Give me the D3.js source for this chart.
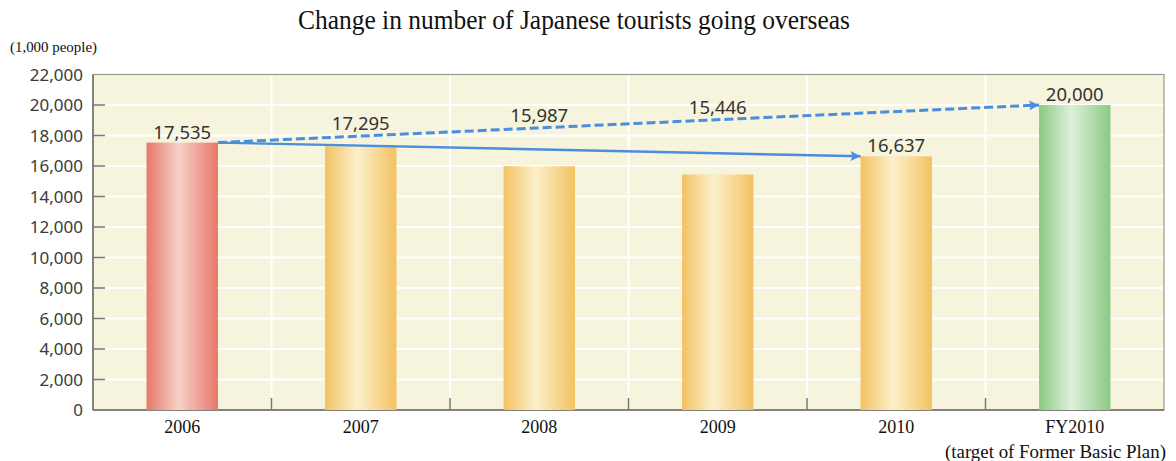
<!DOCTYPE html>
<html><head><meta charset="utf-8">
<script src="https://cdn.jsdelivr.net/npm/d3@7"></script>
<style>body{margin:0;background:#fff}svg{display:block}</style>
</head><body>
<svg id="c" width="1176" height="461"></svg>
<script>
const categories = ["2006","2007","2008","2009","2010","FY2010"];
const values = [17535, 17295, 15987, 15446, 16637, 20000];
const barColors = ["red","yellow","yellow","yellow","yellow","green"];
const yTicks = [0,2000,4000,6000,8000,10000,12000,14000,16000,18000,20000,22000];
const subLabel = "(target of Former Basic Plan)";
const title = "Change in number of Japanese tourists going overseas";
const unit = "(1,000 people)";
const arrows = [{from:0,to:4,dashed:false},{from:0,to:5,dashed:true}];

const svg = d3.select("#c");
const L=93, R=1164, T=74.5, B=410;
const x = d3.scaleBand().domain(categories).range([L,R]).paddingInner(0.6).paddingOuter(0.3);
const y = d3.scaleLinear().domain([0,22000]).range([B,T]);

const defs = svg.append("defs");
const grads = {red:["#e8766a","#f6d2c6"], yellow:["#f3c262","#fcf0cb"], green:["#8bca84","#ddf0d9"]};
Object.entries(grads).forEach(([k,[e,c]])=>{
  const g = defs.append("linearGradient").attr("id","g_"+k).attr("x1","0").attr("x2","1").attr("y1","0").attr("y2","0");
  g.append("stop").attr("offset","0").attr("stop-color",e);
  g.append("stop").attr("offset","0.45").attr("stop-color",c);
  g.append("stop").attr("offset","1").attr("stop-color",e);
});
defs.append("marker").attr("id","ah").attr("viewBox","0 0 10 10").attr("refX",10).attr("refY",5)
  .attr("markerWidth",18).attr("markerHeight",10).attr("markerUnits","userSpaceOnUse").attr("orient","auto")
  .append("path").attr("d","M0,0L10,5L0,10L2,5Z").attr("fill","#4a8ede");

svg.append("rect").attr("x",L).attr("y",T).attr("width",R-L).attr("height",B-T).attr("fill","#f6f4dd");
svg.append("g").selectAll("line").data(yTicks.slice(1,-1)).join("line")
  .attr("x1",L).attr("x2",R).attr("y1",d=>y(d)).attr("y2",d=>y(d)).attr("stroke","#fff").attr("stroke-width",2);
const step = x.step();
const bnd = categories.slice(1).map((c,i)=>L+step*(i+1));
svg.append("g").selectAll("line").data(bnd).join("line")
  .attr("x1",d=>d).attr("x2",d=>d).attr("y1",T).attr("y2",B).attr("stroke","#fff").attr("stroke-width",2);

svg.append("rect").attr("x",L).attr("y",T).attr("width",R-L).attr("height",B-T).attr("fill","none").attr("stroke","#9a9a90").attr("stroke-width",1.2);
svg.append("line").attr("x1",L).attr("x2",L).attr("y1",T).attr("y2",B).attr("stroke","#6e6e6e").attr("stroke-width",1.5);
svg.append("line").attr("x1",L).attr("x2",R).attr("y1",B).attr("y2",B).attr("stroke","#6e6e6e").attr("stroke-width",1.5);

svg.append("g").selectAll("line").data(yTicks.slice(1,-1)).join("line")
  .attr("x1",L).attr("x2",L+12).attr("y1",d=>y(d)).attr("y2",d=>y(d)).attr("stroke","#777").attr("stroke-width",1.5);
svg.append("g").selectAll("text").data(yTicks).join("text")
  .attr("x",83).attr("y",d=>y(d)).attr("dy","0.36em").attr("text-anchor","end")
  .attr("font-family","Noto Sans, sans-serif").attr("font-size",17).attr("fill","#3a3a3a")
  .text(d=>d3.format(",")(d));
svg.append("g").selectAll("line").data(bnd).join("line")
  .attr("x1",d=>d).attr("x2",d=>d).attr("y1",B-12).attr("y2",B).attr("stroke","#777").attr("stroke-width",1.5);

svg.append("g").selectAll("rect").data(values).join("rect")
  .attr("x",(d,i)=>x(categories[i])).attr("width",x.bandwidth())
  .attr("y",d=>y(d)).attr("height",d=>B-y(d))
  .attr("fill",(d,i)=>`url(#g_${barColors[i]})`);

const cx = i=>x(categories[i])+x.bandwidth()/2;
arrows.forEach(a=>{
  const x1=x(categories[a.from])+x.bandwidth(), y1=y(values[a.from]);
  const x2=x(categories[a.to]), y2=y(values[a.to]);
  svg.append("line").attr("x1",x1).attr("y1",y1).attr("x2",x2).attr("y2",y2)
    .attr("stroke","#4a8ede").attr("stroke-width",a.dashed?3:2.4)
    .attr("stroke-dasharray",a.dashed?"9,4":null).attr("marker-end","url(#ah)");
});
const da = arrows.find(a=>a.dashed), sa = arrows.find(a=>!a.dashed);
const dx1=x(categories[da.from])+x.bandwidth(), dy1=y(values[da.from]);
const dx2=x(categories[da.to]), dy2=y(values[da.to]);
const lineY = px => dy1+(px-dx1)/(dx2-dx1)*(dy2-dy1);
const labelY = (d,i) => (i>sa.from && i<sa.to) ? Math.min(y(d), lineY(cx(i)))-6 : y(d)-4;

svg.append("g").selectAll("text").data(values).join("text")
  .attr("x",(d,i)=>cx(i)).attr("y",labelY)
  .attr("text-anchor","middle").attr("font-family","Noto Sans, sans-serif").attr("font-size",18.5)
  .attr("fill","#333").text(d=>d3.format(",")(d));

svg.append("g").selectAll("text").data(categories).join("text")
  .attr("x",(d,i)=>cx(i)).attr("y",433).attr("text-anchor","middle")
  .attr("font-family","Liberation Serif, serif").attr("font-size",18).attr("fill","#111").text(d=>d);
svg.append("text").attr("x",1166).attr("y",458).attr("text-anchor","end")
  .attr("font-family","Liberation Serif, serif").attr("font-size",19).attr("fill","#111")
  .attr("textLength",221).attr("lengthAdjust","spacingAndGlyphs").text(subLabel);

svg.append("text").attr("x",298).attr("y",29).attr("font-family","Liberation Serif, serif").attr("font-size",28)
  .attr("fill","#111").attr("textLength",552).attr("lengthAdjust","spacingAndGlyphs").text(title);
svg.append("text").attr("x",10).attr("y",52).attr("font-family","Liberation Serif, serif").attr("font-size",14)
  .attr("fill","#111").attr("textLength",87).attr("lengthAdjust","spacingAndGlyphs").text(unit);
</script>
</body></html>
